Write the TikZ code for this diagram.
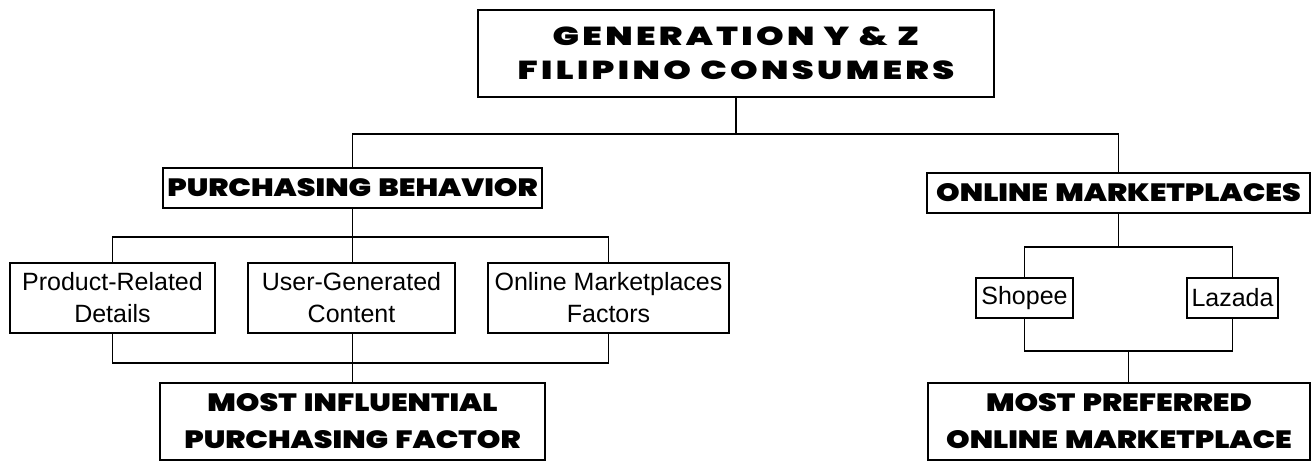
\documentclass[tikz,border=0pt]{standalone}
\usepackage{fontspec}
\setmainfont{Liberation Sans}
\IfFontExistsTF{Poppins Black}
  {\newfontfamily\heavy{Poppins Black}[FakeStretch=1.2,WordSpace=1.4]
   \newfontfamily\heavytop{Poppins Black}[FakeStretch=1.35,LetterSpace=13]}
  {\newfontfamily\heavy{Poppins Bold}[FakeStretch=1.2,WordSpace=1.4,FakeBold=1.5]
   \newfontfamily\heavytop{Poppins Bold}[FakeStretch=1.35,LetterSpace=13,FakeBold=1.5]}
\usetikzlibrary{calc}
\tikzset{
  box/.style={draw=black, line width=1.6pt, inner sep=0pt, align=center, text=black, fill=white},
  heavytxt/.style={font=\heavy\fontsize{25}{37}\selectfont},
  toptxt/.style={font=\heavytop\fontsize{26}{34}\selectfont},
  plaintxt/.style={font=\fontsize{25}{32}\selectfont},
  link/.style={draw=black, line width=1.6pt}
}
\begin{document}
\begin{tikzpicture}[x=1pt,y=-1pt]
\useasboundingbox (0,0) rectangle (1312,462);
% nodes
\node[box,toptxt,minimum width=516pt,minimum height=87pt] (top) at (736,53.5) {GENERATION Y \& Z\\FILIPINO CONSUMERS};
\node[box,heavytxt,minimum width=379pt,minimum height=40pt] (pb) at (352.5,188) {PURCHASING BEHAVIOR};
\node[box,heavytxt,minimum width=383pt,minimum height=40pt] (om) at (1118.5,193) {ONLINE MARKETPLACES};
\node[box,plaintxt,minimum width=205pt,minimum height=70pt] (prd) at (112.5,298) {Product-Related\\Details};
\node[box,plaintxt,minimum width=207pt,minimum height=70pt] (ugc) at (351.5,298) {User-Generated\\Content};
\node[box,plaintxt,minimum width=241pt,minimum height=70pt] (omf) at (608.5,298) {Online Marketplaces\\Factors};
\node[box,heavytxt,minimum width=385pt,minimum height=77pt] (mif) at (352.5,421.5) {MOST INFLUENTIAL\\PURCHASING FACTOR};
\node[box,plaintxt,minimum width=97pt,minimum height=40pt] (shp) at (1024.5,298) {Shopee};
\node[box,plaintxt,minimum width=91pt,minimum height=40pt] (lzd) at (1232.5,298) {Lazada};
\node[box,heavytxt,minimum width=382pt,minimum height=77pt] (mpom) at (1119,421.5) {MOST PREFERRED\\ONLINE MARKETPLACE};
% junctions
\coordinate (j1) at ($(top.south)+(0,36)$);
\coordinate (j2) at ($(pb.south)+(0,28)$);
\coordinate (j3) at ($(pb.south)+(0,154)$);
\coordinate (j4) at ($(om.south)+(0,33)$);
\coordinate (j5) at ($($(shp.south)!0.5!(lzd.south)$)+(0,32)$);
% connectors
\draw[link] (top.south) -- (j1);
\draw[link] (pb.north) |- (j1) -| (om.north);
\draw[link] (pb.south) -- (pb.south |- ugc.north);
\draw[link] (prd.north) |- (j2) -| (omf.north);
\draw[link] (prd.south) |- (j3) -| (omf.south);
\draw[link] (ugc.south -| j3) -- (j3 |- mif.north);
\draw[link] (om.south) -- (j4);
\draw[link] (shp.north) |- (j4) -| (lzd.north);
\draw[link] (shp.south) |- (j5) -| (lzd.south);
\draw[link] (j5) -- (j5 |- mpom.north);
\end{tikzpicture}
\end{document}
